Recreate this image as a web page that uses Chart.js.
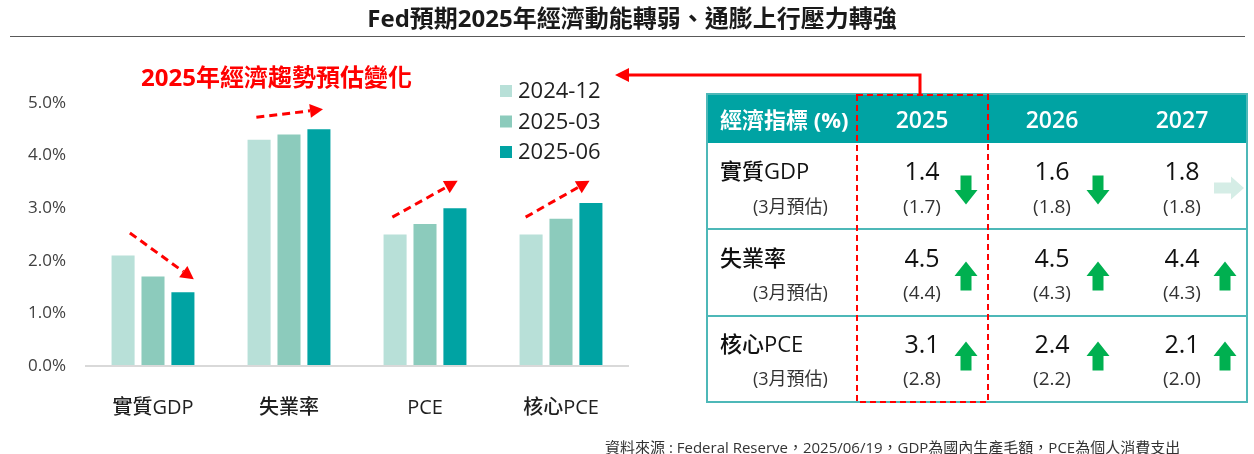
<!DOCTYPE html>
<html><head><meta charset="utf-8">
<script src="https://cdn.jsdelivr.net/npm/chart.js@4.4.0/dist/chart.umd.min.js"></script>
<style>
html,body{margin:0;padding:0;background:#fff;}
body{width:1254px;height:454px;position:relative;overflow:hidden;font-family:"Open Sans","Noto Sans CJK TC",sans-serif;}
.t{position:absolute;line-height:1;white-space:nowrap;transform:translateY(-50%);}
.c{transform:translate(-50%,-50%);}
#chartBox{position:absolute;left:0;top:0;width:640px;height:454px;}
#ov{position:absolute;left:0;top:0;}
</style></head><body>
<div id="chartBox"><canvas id="c"></canvas></div>
<svg id="ov" width="1254" height="454" xmlns="http://www.w3.org/2000/svg"></svg>
<div id="txt"></div>
<script>
// ---- data ----
const categories = ['實質GDP','失業率','PCE','核心PCE'];
const seriesLabels = ['2024-12','2025-03','2025-06'];
const dec2024 = [2.1, 4.3, 2.5, 2.5];
const mar2025 = [1.7, 4.4, 2.7, 2.8];
const jun2025 = [1.4, 4.5, 3.0, 3.1];
const trendFrom = [2.53, 4.73, 2.83, 2.83];
const trendTo   = [1.65, 4.88, 3.52, 3.52];

const titleText = 'Fed預期2025年經濟動能轉弱、通膨上行壓力轉強';
const subtitleText = '2025年經濟趨勢預估變化';
const sourceText = '資料來源 : Federal Reserve，2025/06/19，GDP為國內生產毛額，PCE為個人消費支出';

const tableHeader = '經濟指標 (%)';
const tableYears = ['2025','2026','2027'];
const tableRows = ['實質GDP','失業率','核心PCE'];
const tableSub = '(3月預估)';
const juneProj  = [[1.4,1.6,1.8],[4.5,4.5,4.4],[3.1,2.4,2.1]];
const marchProj = [[1.7,1.8,1.8],[4.4,4.3,4.3],[2.8,2.2,2.0]];

// ---- style / layout ----
const FONT = '"Open Sans","Noto Sans CJK TC",sans-serif';
const barColors = ['#b8e0d8','#8ccbbc','#00a3a3'];
const trendDx = [[-0.17,0.30],[-0.24,0.25],[-0.24,0.24],[-0.26,0.21]];

const legendPlugin = {
  id:'customLegend',
  afterDraw(ch){
    const ctx = ch.ctx, a = ch.chartArea;
    ctx.save();
    ch.data.datasets.forEach((ds,i)=>{
      const y = a.top - 12 + i*30.5;
      const x = a.right - 129;
      ctx.fillStyle = ds.backgroundColor;
      ctx.fillRect(x, y-6, 12, 12);
      ctx.fillStyle = '#1f1f1f';
      ctx.font = '500 22px ' + FONT;
      ctx.textBaseline = 'middle';
      ctx.textAlign = 'left';
      ctx.fillText(ds.label, x + 18, y + 1);
    });
    ctx.restore();
  }
};

const trendPlugin = {
  id:'trendArrows',
  afterDatasetsDraw(ch){
    const ctx = ch.ctx, xs = ch.scales.x, ys = ch.scales.y, a = ch.chartArea;
    const cw = (a.right - a.left) / categories.length;
    ctx.save();
    ctx.strokeStyle = '#ff0000'; ctx.fillStyle = '#ff0000';
    ctx.lineWidth = 3;
    categories.forEach((c,i)=>{
      const cx = xs.getPixelForValue(i);
      const x0 = cx + trendDx[i][0]*cw, x1 = cx + trendDx[i][1]*cw;
      const y0 = ys.getPixelForValue(trendFrom[i]), y1 = ys.getPixelForValue(trendTo[i]);
      const ang = Math.atan2(y1-y0, x1-x0);
      const hl = 13, hw = 7;
      const bx = x1 - hl*Math.cos(ang), by = y1 - hl*Math.sin(ang);
      ctx.setLineDash([8,5]);
      ctx.beginPath(); ctx.moveTo(x0,y0); ctx.lineTo(bx,by); ctx.stroke();
      ctx.setLineDash([]);
      ctx.beginPath();
      ctx.moveTo(x1,y1);
      ctx.lineTo(bx + hw*Math.sin(ang), by - hw*Math.cos(ang));
      ctx.lineTo(bx - hw*Math.sin(ang), by + hw*Math.cos(ang));
      ctx.closePath(); ctx.fill();
    });
    ctx.restore();
  }
};

new Chart(document.getElementById('c'), {
  type:'bar',
  data:{
    labels: categories,
    datasets: [dec2024, mar2025, jun2025].map((d,i)=>({
      label: seriesLabels[i], data: d, backgroundColor: barColors[i],
      categoryPercentage: 0.66, barPercentage: 0.77
    }))
  },
  options:{
    responsive:true, maintainAspectRatio:false, animation:false,
    layout:{padding:{top:103,right:11,left:0,bottom:0}},
    plugins:{legend:{display:false}, tooltip:{enabled:false}},
    scales:{
      x:{
        grid:{display:false}, border:{display:false},
        ticks:{padding:22, color:'#1f1f1f', font:{family:FONT,size:20,weight:'500'}},
        afterFit(s){ s.height = 88; }
      },
      y:{
        min:0, max:5,
        ticks:{stepSize:1, padding:19, color:'#404040', font:{family:FONT,size:17},
          callback:v=>v.toFixed(1)+'%'},
        grid:{drawTicks:false, lineWidth:2,
          color:c=> (c.tick && c.tick.value===0) ? '#d9d9d9' : 'rgba(0,0,0,0)'},
        border:{display:false},
        afterFit(s){ s.width = 85; }
      }
    }
  },
  plugins:[legendPlugin, trendPlugin]
});

// ---- texts ----
const txt = document.getElementById('txt');
function addText(s, x, y, size, opts={}){
  const d = document.createElement('div');
  d.className = 't' + (opts.center ? ' c' : '');
  d.textContent = s;
  d.style.left = x + 'px'; d.style.top = y + 'px';
  d.style.fontSize = size + 'px';
  d.style.color = opts.color || '#1a1a1a';
  d.style.fontWeight = opts.weight || 'normal';
  txt.appendChild(d);
  return d;
}
addText(titleText, 632, 18, 24, {center:true, weight:'bold', color:'#1a1a1a'});
addText(subtitleText, 141, 77, 24, {weight:'bold', color:'#ff0000'});
addText(sourceText, 605, 447, 15, {color:'#333'});

// ---- table ----
const T = {left:707, right:1247, top:94, headBottom:143, rowBottoms:[229,316,402],
  colCenters:[922,1052,1182], arrowX:[966,1098,1225]};
const rowMainY = [170,257,343], rowSubY = [206,292,378], arrowY = [190,276,356];
addText(tableHeader, 720, 119, 22, {weight:'bold', color:'#ffffff'});
tableYears.forEach((y,j)=>addText(y, T.colCenters[j], 119, 23, {center:true, weight:'600', color:'#ffffff'}));
tableRows.forEach((r,i)=>{
  addText(r, 720, rowMainY[i], 22, {weight:'500', color:'#111'});
  addText(tableSub, 753, rowSubY[i], 18, {color:'#333'});
  juneProj[i].forEach((v,j)=>{
    addText(v.toFixed(1), T.colCenters[j], rowMainY[i], 25, {center:true, weight:'500', color:'#111'});
    addText('(' + marchProj[i][j].toFixed(1) + ')', T.colCenters[j], rowSubY[i], 19, {center:true, color:'#333'});
  });
});

const ns = 'http://www.w3.org/2000/svg';
const svg = document.getElementById('ov');
function el(tag, attrs){ const e = document.createElementNS(ns, tag); for (const k in attrs) e.setAttribute(k, attrs[k]); svg.appendChild(e); return e; }

// title underline
el('line', {x1:10, x2:1245, y1:36.5, y2:36.5, stroke:'#595959', 'stroke-width':1});

el('rect', {x:T.left, y:T.top, width:T.right-T.left, height:T.headBottom-T.top, fill:'#00a3a3'});
T.rowBottoms.slice(0,2).forEach(y=>el('line',{x1:T.left,x2:T.right,y1:y,y2:y,stroke:'#4db8b8','stroke-width':2}));
el('rect', {x:T.left, y:T.top, width:T.right-T.left, height:T.rowBottoms[2]-T.top, fill:'none', stroke:'#4db8b8','stroke-width':2});
el('rect', {x:857, y:95, width:131, height:307, fill:'none', stroke:'#ff0000','stroke-width':2,'stroke-dasharray':'6 4'});
el('polyline', {points:'920,94 920,75 627,75', fill:'none', stroke:'#ff0000','stroke-width':3});
el('polygon', {points:'615,75 629,68 629,82', fill:'#ff0000'});

function arrow(cx, cy, dir, color){
  let p;
  if (dir === 'up') p = [[cx,cy-14.5],[cx+11.5,cy],[cx+5.5,cy],[cx+5.5,cy+14.5],[cx-5.5,cy+14.5],[cx-5.5,cy],[cx-11.5,cy]];
  else if (dir === 'down') p = [[cx,cy+14.5],[cx+11.5,cy],[cx+5.5,cy],[cx+5.5,cy-14.5],[cx-5.5,cy-14.5],[cx-5.5,cy],[cx-11.5,cy]];
  else p = [[cx+15,cy],[cx+2,cy-11.5],[cx+2,cy-5.5],[cx-15,cy-5.5],[cx-15,cy+5.5],[cx+2,cy+5.5],[cx+2,cy+11.5]];
  el('polygon', {points:p.map(q=>q.join(',')).join(' '), fill:color});
}
juneProj.forEach((row,i)=>row.forEach((v,j)=>{
  const m = marchProj[i][j];
  if (v > m) arrow(T.arrowX[j], arrowY[i], 'up', '#00b050');
  else if (v < m) arrow(T.arrowX[j], arrowY[i], 'down', '#00b050');
  else arrow(T.arrowX[j]+4, arrowY[i]-2, 'right', '#d5ede6');
}));
</script>
</body></html>
